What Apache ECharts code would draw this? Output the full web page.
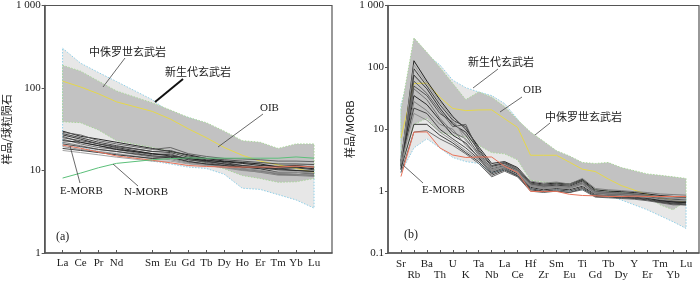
<!DOCTYPE html>
<html><head><meta charset="utf-8">
<script src="https://cdn.jsdelivr.net/npm/echarts@6/dist/echarts.min.js"></script>
<style>html,body{margin:0;padding:0;background:#fff}#c{width:700px;height:281px}</style>
</head><body><div id="c"></div>
<script>
// ---------- Panel (a): chondrite-normalised REE ----------
const reeElements = ['La','Ce','Pr','Nd','Sm','Eu','Gd','Tb','Dy','Ho','Er','Tm','Yb','Lu'];
const reeAxis = ['', 'La','Ce','Pr','Nd','Pm','Sm','Eu','Gd','Tb','Dy','Ho','Er','Tm','Yb','Lu',''];
const reeYTicks = [1, 10, 100, 1000];

const reeLightHi = [303, 200, 154, 120, 72, 50, 44, 37, 26, 17.5, 15, 13, 12, 11];
const reeLightLo = [20, 19, 17, 15.5, 13, 12, 11, 10.6, 9, 6.1, 5.9, 5.1, 4.4, 3.5];
const reeDarkHi = [188, 160, 121, 92, 66, 54, 44, 38, 30, 23, 22, 18.5, 21, 21];
const reeDarkLo = [39, 38, 31, 23, 19, 17, 15, 12, 10.5, 8.7, 8, 7.2, 7.3, 8];
const reeOIB = [121, 103, 85, 68, 52, 42, 32, 25, 19, 15.3, 13, 11.7, 10.6, 9.5];
const reeEMORB = [20.3, 18.6, 16.8, 15, 13.3, 12.4, 11.5, 11.2, 11.0, 11.0, 11.0, 11.0, 11.3, 11.0];
const reeNMORB = [8.1, 9.3, 10.8, 12.2, 13.5, 13.9, 14.2, 14.1, 14.1, 14.1, 14.1, 14.1, 14.6, 14.1];
const reeSamples = [
  [30, 26, 24, 22, 18.5, 17, 15.5, 14, 13, 12.5, 12, 11, 11, 10.5],
  [28, 25, 22, 20, 17, 16.5, 14.5, 13.5, 12.5, 11.5, 11, 10.5, 10, 9.8],
  [27, 24, 21, 19, 16, 15.5, 14, 13, 12, 11, 10.5, 9.5, 9.5, 9.2],
  [26, 22, 20, 18.5, 15.5, 16, 13.5, 12.5, 11.5, 10.5, 10, 9, 9, 8.7],
  [25, 23, 21, 19.5, 17, 17.5, 15, 14, 13.5, 13, 12.5, 12, 12, 11.8],
  [24, 21, 19, 18, 15, 14.5, 13, 12, 11, 10.5, 9.8, 9.2, 9.5, 9],
  [23, 22, 20, 18, 16, 15, 14, 13.2, 12.8, 12.2, 11.5, 11.2, 11.5, 11],
  [22, 20, 18, 17, 14.5, 14, 12.5, 11.8, 11, 10.2, 9.5, 8.8, 8.7, 8.5],
  [21, 19.5, 18, 17, 15, 14.8, 13.5, 12.8, 12, 11.5, 11, 10.5, 10.8, 10.2],
  [19.5, 18, 17, 16, 14, 13.5, 12.2, 11.5, 10.8, 10, 9.6, 9.2, 9, 8.8],
  [18.5, 17.5, 16.5, 15.5, 14, 14.5, 12.8, 12, 11.5, 11, 10.8, 10.2, 10, 9.7],
  [17.5, 16.5, 15.5, 14.5, 13, 13, 12, 11.5, 11, 10.5, 10, 9.5, 9.5, 9.3],
  [29, 27, 23, 21, 18, 19, 16, 14.8, 14, 13.8, 13.5, 13, 13, 12.8]
];

// ---------- Panel (b): N-MORB-normalised spider ----------
const spElements = ['Sr','Rb','Ba','Th','U','K','Ta','Nb','La','Ce','Hf','Zr','Sm','Eu','Ti','Gd','Tb','Dy','Y','Er','Tm','Yb','Lu'];
const spAxis = [''].concat(spElements, ['']);
const spYTicks = [0.1, 1, 10, 100, 1000];

const spLightHi = [25, 135, 160, 110, 62, 47, 40, 35, 26, 14.5, 6.2, 5.4, 4.4, 3.4, 2.8, 2.4, 2.05, 1.8, 1.55, 1.35, 1.15, 1.0, 0.86];
const spLightLo = [2.0, 5, 7, 5, 3.5, 3, 2.8, 2.0, 2.2, 1.8, 1.1, 1.0, 1.05, 1.0, 1.05, 0.98, 0.85, 0.72, 0.6, 0.5, 0.4, 0.32, 0.25];
const spDarkHi = [20, 300, 175, 100, 55, 30, 40, 33, 23, 14.2, 9, 6.4, 4.5, 3.7, 2.9, 2.8, 2.9, 2.4, 2.14, 1.9, 1.8, 1.7, 1.6];
const spDarkLo = [2.5, 12, 15, 9, 8, 7.5, 5.5, 4.2, 4, 3.2, 1.5, 1.4, 1.35, 1.3, 1.5, 1.05, 1.0, 0.95, 0.9, 0.82, 0.6, 0.5, 0.7];
const spOIB = [7.3, 55, 55.6, 33, 21.7, 20, 20.5, 20.6, 14.8, 10.7, 3.8, 3.8, 3.8, 2.94, 2.26, 2.07, 1.57, 1.23, 1.04, 0.88, 0.77, 0.71, 0.66];
const spEMORB = [1.72, 9.0, 9.05, 5.0, 3.83, 3.5, 3.56, 3.56, 2.52, 2.0, 0.99, 0.99, 0.99, 0.89, 0.85, 0.84, 0.82, 0.82, 0.83, 0.82, 0.82, 0.82, 0.82];
const spSamples = [
  [2.8, 128, 60, 30, 16, 10, 5.2, 2.8, 3.0, 2.4, 1.4, 1.3, 1.35, 1.3, 1.55, 1.05, 1.0, 0.98, 0.95, 0.9, 0.85, 0.82, 0.8],
  [3.0, 95, 50, 25, 14, 11, 4.8, 2.6, 2.9, 2.3, 1.35, 1.25, 1.3, 1.25, 1.5, 1.0, 0.95, 0.93, 0.9, 0.85, 0.78, 0.74, 0.72],
  [2.5, 75, 45, 22, 12, 9, 4.5, 2.5, 2.8, 2.2, 1.3, 1.2, 1.25, 1.2, 1.45, 0.95, 0.92, 0.9, 0.88, 0.82, 0.75, 0.7, 0.68],
  [3.2, 60, 38, 20, 11, 12, 4.2, 2.3, 2.6, 2.1, 1.25, 1.15, 1.2, 1.15, 1.35, 0.92, 0.9, 0.88, 0.85, 0.8, 0.72, 0.68, 0.66],
  [2.2, 50, 35, 18, 13, 8, 4.0, 2.2, 2.5, 2.0, 1.2, 1.1, 1.15, 1.1, 1.3, 0.9, 0.88, 0.86, 0.83, 0.78, 0.7, 0.66, 0.64],
  [3.5, 45, 30, 15, 9, 7, 3.8, 2.1, 2.6, 2.2, 1.3, 1.2, 1.2, 1.15, 1.4, 0.98, 0.95, 0.93, 0.9, 0.86, 0.82, 0.8, 0.78],
  [2.6, 35, 25, 14, 8, 6, 3.5, 2.0, 2.4, 1.9, 1.15, 1.05, 1.1, 1.05, 1.2, 0.88, 0.86, 0.84, 0.8, 0.76, 0.7, 0.67, 0.65],
  [2.4, 28, 20, 12, 10, 5.5, 3.6, 2.4, 2.7, 2.3, 1.45, 1.35, 1.4, 1.3, 1.6, 1.1, 1.05, 1.02, 0.98, 0.95, 0.9, 0.88, 0.86],
  [3.1, 22, 18, 10, 7, 5, 3.3, 1.9, 2.3, 1.8, 1.1, 1.0, 1.05, 1.0, 1.15, 0.85, 0.83, 0.8, 0.78, 0.74, 0.68, 0.64, 0.62],
  [2.7, 18, 14, 9, 6.5, 4.5, 3.2, 2.1, 2.4, 2.0, 1.25, 1.15, 1.2, 1.15, 1.3, 0.95, 0.92, 0.9, 0.87, 0.83, 0.78, 0.76, 0.74],
  [2.3, 12, 12, 8, 6, 4.2, 3.0, 1.8, 2.2, 1.75, 1.05, 0.98, 1.0, 0.95, 1.1, 0.82, 0.8, 0.78, 0.76, 0.72, 0.66, 0.62, 0.6],
  [2.9, 110, 55, 28, 15, 6.5, 4.0, 2.2, 2.5, 2.0, 1.2, 1.1, 1.15, 1.1, 1.25, 0.9, 0.87, 0.85, 0.82, 0.79, 0.74, 0.71, 0.7],
  [2.0, 9, 9.5, 7, 5.5, 4, 2.8, 1.7, 2.1, 1.7, 1.0, 0.95, 1.0, 0.95, 1.05, 0.8, 0.78, 0.76, 0.74, 0.7, 0.65, 0.6, 0.6]
];

// ---------- styling ----------
const SERIF = 'Liberation Serif, Times New Roman, serif';
const CJK = 'Noto Sans CJK SC, sans-serif';
const sampleColors = ['#111','#333','#222','#555','#444','#666','#1a1a1a','#777','#3a3a3a','#888','#2a2a2a','#999','#5a5a5a'];

function pairs(cats, axisCats, vals) {
  return vals.map((v, i) => [axisCats.indexOf(cats[i]), v]);
}
function line(ai, cats, axisCats, vals, color, width, z) {
  return { type: 'line', xAxisIndex: ai, yAxisIndex: ai, data: pairs(cats, axisCats, vals),
    symbol: 'none', silent: true, animation: false, z: z,
    lineStyle: { color: color, width: width } };
}
function envelope(ai, cats, axisCats, lo, hi, fill, stroke, z) {
  const xs = cats.map(c => axisCats.indexOf(c));
  return { type: 'custom', xAxisIndex: ai, yAxisIndex: ai, z: z, silent: true, animation: false,
    data: xs.map((x, i) => [x, lo[i], hi[i]]), encode: { x: 0, y: [1, 2] },
    renderItem: function (params, api) {
      if (params.dataIndex !== 0) return null;
      const pts = [];
      for (let i = 0; i < xs.length; i++) pts.push(api.coord([xs[i], hi[i]]));
      for (let i = xs.length - 1; i >= 0; i--) pts.push(api.coord([xs[i], lo[i]]));
      return { type: 'polygon', shape: { points: pts },
        style: { fill: fill, stroke: stroke, lineWidth: 1, lineDash: [1.5, 1.5] } };
    } };
}

const series = [];
series.push(envelope(0, reeElements, reeAxis, reeLightLo, reeLightHi, '#e7e7e7', '#8fd0e8', 1));
series.push(envelope(0, reeElements, reeAxis, reeDarkLo, reeDarkHi, '#c2c2c2', '#a9d69a', 2));
series.push(line(0, reeElements, reeAxis, reeOIB, '#e6d84a', 1, 4));
reeSamples.forEach((s, i) => series.push(line(0, reeElements, reeAxis, s, sampleColors[i], 0.9, 5)));
series.push(line(0, reeElements, reeAxis, reeEMORB, '#e8735a', 1, 6));
series.push(line(0, reeElements, reeAxis, reeNMORB, '#5cc07a', 1, 6));

series.push(envelope(1, spElements, spAxis, spLightLo, spLightHi, '#e7e7e7', '#8fd0e8', 1));
series.push(envelope(1, spElements, spAxis, spDarkLo, spDarkHi, '#c2c2c2', '#a9d69a', 2));
series.push(line(1, spElements, spAxis, spOIB, '#e6d84a', 1, 4));
spSamples.forEach((s, i) => series.push(line(1, spElements, spAxis, s, sampleColors[i], 0.9, 5)));
series.push(line(1, spElements, spAxis, spEMORB, '#e8735a', 1, 6));

function xAxis(gi, cats, twoRow) {
  return { type: 'category', gridIndex: gi, data: cats, boundaryGap: false,
    axisLine: { lineStyle: { color: '#555', width: 1.5 } },
    axisTick: { inside: true, length: 3, lineStyle: { color: '#555' },
      interval: (i, v) => v !== '' && v !== 'Pm' },
    axisLabel: { interval: (i, v) => v !== '' && v !== 'Pm', margin: twoRow ? 6 : 5,
      fontFamily: SERIF, fontSize: 11, color: '#222', lineHeight: 11,
      formatter: twoRow ? (v, i) => (i % 2 === 1 ? v : '\n' + v) : (v) => v },
    splitLine: { show: false } };
}
function yAxis(gi, min, max, name, gap) {
  return { type: 'log', gridIndex: gi, logBase: 10, min: min, max: max,
    name: name, nameLocation: 'middle', nameRotate: 90, nameGap: gap,
    nameTextStyle: { fontFamily: CJK + ',' + SERIF, fontSize: 11, color: '#222' },
    axisLine: { show: true, lineStyle: { color: '#555', width: 1.5 } },
    axisTick: { show: true, inside: false, length: 3, lineStyle: { color: '#555' } },
    minorTick: { show: false },
    axisLabel: { fontFamily: SERIF, fontSize: 11, color: '#222', margin: 4,
      formatter: v => (Math.abs(v - 1000) < 1e-6 ? '1 000' : String(+v.toPrecision(3))) },
    splitLine: { show: false } };
}

function txt(x, y, t, font) {
  return { type: 'text', x: x, y: y, z: 100, silent: true,
    style: { text: t, font: font, fill: '#222', align: 'left', verticalAlign: 'middle' } };
}
function seg(x1, y1, x2, y2, w, c) {
  return { type: 'line', z: 100, silent: true, shape: { x1: x1, y1: y1, x2: x2, y2: y2 },
    style: { stroke: c || '#444', lineWidth: w || 0.8 } };
}
const cjkFont = '11px ' + CJK;
const serifFont = '11px ' + SERIF;

const option = {
  backgroundColor: '#fff',
  animation: false,
  grid: [
    { left: 41, top: 4, width: 291, height: 249, show: true, borderColor: '#555', borderWidth: 1.2, backgroundColor: 'transparent' },
    { left: 388, top: 4, width: 311, height: 250, show: true, borderColor: '#555', borderWidth: 1.2, backgroundColor: 'transparent' }
  ],
  xAxis: [xAxis(0, reeAxis, false), xAxis(1, spAxis, true)],
  yAxis: [yAxis(0, reeYTicks[0], reeYTicks[reeYTicks.length - 1], '样品/球粒陨石', 30),
          yAxis(1, spYTicks[0], spYTicks[spYTicks.length - 1], '样品/MORB', 29)],
  series: series,
  graphic: [
    txt(89, 52, '中侏罗世玄武岩', cjkFont), seg(125, 58, 103, 87),
    txt(165, 72, '新生代玄武岩', cjkFont), seg(183, 79, 155, 102, 2, '#111'),
    txt(260, 108, 'OIB', serifFont), seg(263, 114, 218, 147),
    txt(60, 191, 'E-MORB', serifFont), seg(80, 183, 70, 146),
    txt(124, 192, 'N-MORB', serifFont), seg(138, 186, 113, 164),
    txt(56, 237, '(a)', '12px ' + SERIF),
    txt(468, 62, '新生代玄武岩', cjkFont), seg(498, 69, 473, 88),
    txt(523, 90, 'OIB', serifFont), seg(522, 97, 500, 112),
    txt(545, 117, '中侏罗世玄武岩', cjkFont), seg(550, 123, 535, 135),
    txt(422, 190, 'E-MORB', serifFont), seg(423, 183, 403, 165),
    txt(404, 235, '(b)', '12px ' + SERIF)
  ]
};
echarts.init(document.getElementById('c'), null, { renderer: 'canvas' }).setOption(option);
</script></body></html>
